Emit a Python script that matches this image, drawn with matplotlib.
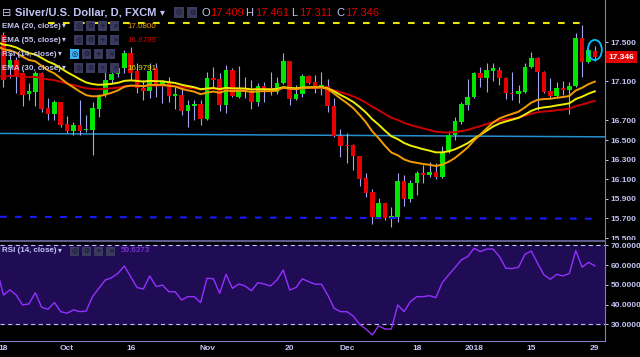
import numpy as np
import pandas as pd
import matplotlib
matplotlib.use("Agg")
import matplotlib.pyplot as plt
from matplotlib.patches import Rectangle, Ellipse

plt.rcParams['font.family'] = ['Liberation Sans', 'DejaVu Sans']
plt.rcParams['lines.scale_dashes'] = False

# --- daily candles, Silver/USD (FXCM), 18 Sep 2017 .. 29 Jan 2018 ---
opens = [17.57, 17.25, 17.32, 17.18, 16.97, 16.99, 17.18, 16.83, 16.77, 16.89,
         16.66, 16.59, 16.65, 16.60, 16.60, 16.82, 16.96, 17.11, 17.17, 17.24,
         17.39, 17.21, 17.03, 17.00, 17.24, 17.05, 17.09, 16.95, 16.96, 16.80,
         16.85, 16.87, 16.72, 17.13, 17.12, 16.86, 17.22, 16.94, 17.03, 16.99,
         16.89, 17.05, 17.03, 16.99, 17.08, 17.31, 16.92, 16.97, 17.15, 17.09,
         17.04, 17.05, 16.85, 16.54, 16.45, 16.45, 16.34, 16.11, 15.97, 15.71,
         15.86, 15.70, 15.71, 16.08, 15.90, 16.06, 16.16, 16.14, 16.17, 16.12,
         16.38, 16.55, 16.68, 16.86, 16.94, 17.18, 17.13, 17.21, 17.22, 17.13,
         16.98, 16.97, 16.99, 17.25, 17.34, 17.19, 17.00, 16.95, 17.03, 17.01,
         17.05, 17.54, 17.30, 17.409]
highs = [17.60, 17.39, 17.35, 17.20, 17.08, 17.21, 17.19, 16.93, 16.91, 16.89,
         16.75, 16.68, 16.91, 16.76, 16.89, 16.97, 17.25, 17.24, 17.29, 17.42,
         17.45, 17.29, 17.11, 17.29, 17.29, 17.11, 17.14, 17.04, 17.04, 16.91,
         16.91, 16.91, 17.19, 17.25, 17.18, 17.27, 17.24, 17.26, 17.14, 17.11,
         17.08, 17.09, 17.20, 17.14, 17.39, 17.31, 17.06, 17.17, 17.16, 17.16,
         17.19, 17.12, 16.93, 16.61, 16.57, 16.46, 16.34, 16.16, 16.00, 15.91,
         15.86, 15.82, 16.16, 16.14, 16.09, 16.18, 16.25, 16.28, 16.27, 16.44,
         16.59, 16.74, 16.89, 17.12, 17.19, 17.25, 17.29, 17.29, 17.25, 17.14,
         17.19, 17.06, 17.29, 17.40, 17.35, 17.21, 17.13, 17.09, 17.10, 17.09,
         17.59, 17.67, 17.49, 17.461]
lows = [17.04, 17.13, 16.98, 16.85, 16.91, 16.85, 16.79, 16.70, 16.70, 16.63,
        16.57, 16.55, 16.55, 16.58, 16.35, 16.74, 16.94, 17.08, 17.14, 17.18,
        17.11, 16.98, 16.91, 16.93, 16.94, 16.88, 16.89, 16.82, 16.76, 16.63,
        16.70, 16.65, 16.70, 17.04, 16.80, 16.78, 16.94, 16.93, 16.93, 16.82,
        16.85, 16.89, 16.96, 16.97, 17.07, 16.86, 16.91, 16.94, 17.07, 16.98,
        16.96, 16.79, 16.53, 16.33, 16.27, 16.19, 16.03, 15.92, 15.64, 15.70,
        15.68, 15.61, 15.66, 15.83, 15.87, 15.94, 16.06, 16.12, 16.10, 16.11,
        16.37, 16.50, 16.66, 16.81, 16.93, 17.04, 16.99, 17.10, 17.06, 16.92,
        16.91, 16.88, 16.98, 17.24, 16.81, 16.98, 16.93, 16.93, 16.96, 16.77,
        17.04, 17.14, 17.29, 17.311]
closes = [17.11, 17.32, 17.16, 16.96, 17.00, 17.18, 16.82, 16.77, 16.89, 16.65,
          16.59, 16.65, 16.59, 16.61, 16.83, 16.96, 17.11, 17.17, 17.24, 17.39,
          17.18, 17.03, 17.00, 17.21, 17.05, 17.09, 16.95, 16.97, 16.80, 16.86,
          16.87, 16.72, 17.13, 17.11, 16.86, 17.22, 16.95, 17.03, 16.99, 16.89,
          17.05, 17.03, 16.99, 17.08, 17.31, 16.92, 16.97, 17.15, 17.08, 17.04,
          17.06, 16.85, 16.54, 16.44, 16.44, 16.34, 16.10, 15.96, 15.71, 15.86,
          15.70, 15.72, 16.08, 15.90, 16.06, 16.16, 16.14, 16.17, 16.12, 16.38,
          16.55, 16.69, 16.87, 16.94, 17.18, 17.13, 17.22, 17.24, 17.13, 16.98,
          16.97, 17.00, 17.25, 17.34, 17.19, 16.99, 16.95, 17.03, 17.01, 17.05,
          17.54, 17.30, 17.42, 17.346]

# RSI(14) as drawn; the first value belongs to the bar just left of the chart
rsi = [57.2, 44.8, 47.4, 44.8, 39.8, 40.3, 46.0, 38.6, 37.6, 41.0, 36.4,
       35.6, 37.3, 36.4, 36.7, 44.0, 48.2, 52.4, 53.6, 55.8, 59.5,
       54.1, 48.6, 47.9, 54.5, 49.1, 49.9, 46.5, 46.5, 42.3, 44.0,
       44.0, 41.0, 53.3, 53.1, 45.7, 55.3, 48.2, 50.4, 49.4, 47.0,
       51.1, 50.4, 49.4, 52.4, 57.5, 47.4, 48.6, 53.0, 51.6, 50.3,
       50.3, 44.8, 38.1, 36.4, 36.4, 34.2, 30.0, 27.6, 24.6, 29.2,
       27.6, 27.6, 39.8, 36.4, 41.5, 44.0, 44.0, 44.5, 43.5, 51.1,
       55.0, 58.7, 62.6, 64.3, 68.5, 66.8, 68.1, 68.1, 64.3, 58.4,
       58.2, 58.9, 65.4, 67.1, 60.9, 55.0, 52.8, 55.3, 54.5, 55.8,
       67.3, 58.9, 61.4, 59.6]

# EMA values on the bar before the first candle
ema_seed = {20: 17.46, 30: 17.50, 55: 17.15}
ema_color = {20: '#f39c00', 30: '#eeee00', 55: '#cc0000'}

# date axis
tick_pos = [0, 10, 20, 32, 45, 54, 65, 74, 83, 93]
tick_labels = ['18', 'Oct', '16', 'Nov', '20', 'Dec', '18', '2018', '15', '29']

# drawn levels
resist_x, resist_y = [7, 92], [17.70, 17.70]
support_x, support_y = [-0.55, 93.8], [15.717, 15.697]
trend_x, trend_y = [-0.55, 94.6], [16.568, 16.533]

price_ticks = [15.5, 15.7, 15.9, 16.1, 16.3, 16.5, 16.7, 17.1, 17.5]
rsi_ticks = [30, 40, 50, 60, 70]

LAV = '#c4c4f4'
GREEN = '#00e600'
RED = '#e60000'
WICK = '#a4a4f0'

W, H = 640, 357
fig = plt.figure(figsize=(W / 100, H / 100), dpi=100, facecolor='black')


def fx(x):
    return x / W


def fy(y):
    return 1 - y / H


# --- price panel ---
ax = fig.add_axes([0, fy(240), fx(605), 240 / H])
ax.set_facecolor('black')
x = np.arange(len(closes))
o, h, l, c = map(np.array, (opens, highs, lows, closes))
ax.vlines(x, l, h, color=WICK, lw=0.8, zorder=2)
body = np.maximum(np.abs(c - o), 0.012)
ax.bar(x, body, bottom=np.minimum(o, c), width=0.72,
       color=np.where(c >= o, GREEN, RED), linewidth=0, zorder=3)

x_ema = np.arange(-1, len(closes))
for n in (55, 30, 20):
    e = pd.Series([ema_seed[n]] + closes).ewm(span=n, adjust=False).mean()
    ax.plot(x_ema, e.values, color=ema_color[n], lw=1.4, zorder=4)

ax.plot(resist_x, resist_y, color='#e6e600', lw=1.5, dashes=(4.8, 6), zorder=4)
ax.plot(support_x, support_y, color='#1a1aff', lw=1.5, dashes=(4.8, 6), zorder=4)
ax.plot(trend_x, trend_y, color='#2590d0', lw=1.1, zorder=1)
ax.add_patch(Ellipse((93, 17.42), 2.2, 0.205, fill=False, ec='#00c0ff', lw=1.3, zorder=5))

ax.set_xlim(-0.55, 94.6)
ax.set_ylim(15.48, 17.93)
ax.set_xticks([])
ax.yaxis.tick_right()
ax.set_yticks(price_ticks)
ax.set_yticklabels(['%.3f' % v for v in price_ticks], fontweight='bold')
ax.tick_params(axis='y', colors=LAV, labelsize=6, length=2.5, width=0.7, pad=1.5)
for s in ('top', 'left', 'bottom'):
    ax.spines[s].set_visible(False)
ax.spines['right'].set_color('#8080c8')
ax.annotate('17.346', xy=(1, 17.346), xycoords=('axes fraction', 'data'),
            xytext=(2.5, 0), textcoords='offset points', ha='left', va='center',
            color='white', fontsize=6, fontweight='bold', annotation_clip=False,
            bbox=dict(boxstyle='square,pad=0.28', fc='#e00000', ec='none'))

# hide the part of the price labels that runs into the lower panel
fig.add_artist(Rectangle((0, 0), 1, fy(240), transform=fig.transFigure,
                         fc='black', ec='none', zorder=0.5))

# --- RSI panel ---
ax2 = fig.add_axes([0, fy(341), fx(605), 100 / H], zorder=1)
ax2.set_facecolor('black')
ax2.axhspan(30, 70, color='#200c55', zorder=0)
for lvl in (30, 70):
    ax2.axhline(lvl, color='#c0c0f0', lw=0.8, dashes=(3, 2.5), zorder=1)
ax2.plot(np.arange(-1, len(closes)), rsi, color='#9430ff', lw=1.0, zorder=2)
ax2.set_xlim(-0.55, 94.6)
ax2.set_ylim(21.54, 72.18)
ax2.yaxis.tick_right()
ax2.set_yticks(rsi_ticks)
ax2.set_yticklabels(['%.4f' % v for v in rsi_ticks], fontweight='bold')
ax2.set_xticks(tick_pos)
ax2.set_xticklabels(tick_labels, fontweight='bold')
ax2.tick_params(axis='y', colors=LAV, labelsize=6, length=2.5, width=0.7, pad=1.5)
ax2.tick_params(axis='x', colors=LAV, labelsize=6, length=0, pad=3)
ax2.spines['left'].set_visible(False)
ax2.spines['right'].set_color('#8080c8')
ax2.spines['bottom'].set_color('#8080c8')
ax2.spines['top'].set_color('#5c5c8c')
ax2.spines['top'].set_linewidth(1.5)


# --- legends (text on top of the panels) ---
def buttons(x0, y, n=4, size=9, hot=False):
    glyphs = ['◎', '⚙', '+', '×'][:n]
    for i, g in enumerate(glyphs):
        left = x0 + i * (size + 3)
        fc = '#3ab4f2' if (hot and i == 0) else '#3a3a5c'
        fig.add_artist(Rectangle((fx(left), fy(y + size / 2)), size / W, size / H,
                                 transform=fig.transFigure, fc=fc, ec='none', zorder=3))
        fig.text(fx(left + size / 2), fy(y), g, color='#14142a', fontsize=5,
                 ha='center', va='center', family='DejaVu Sans', zorder=4)


fig.text(fx(2), fy(12.5), '⊟', color=LAV, fontsize=8, va='center', family='DejaVu Sans')
fig.text(fx(15), fy(12.5), 'Silver/U.S. Dollar, D, FXCM', color=LAV, fontsize=8,
         fontweight='bold', va='center')
fig.text(fx(160), fy(12.5), '▾', color=LAV, fontsize=7, va='center')
buttons(174, 12.5, n=2, size=10)
for lab, val, xl, xv in (('O', '17.409', 201, 210), ('H', '17.461', 245, 255),
                         ('L', '17.311', 291, 299), ('C', '17.346', 336, 345)):
    fig.text(fx(xl), fy(12.5), lab, color=LAV, fontsize=8, va='center')
    fig.text(fx(xv), fy(12.5), val, color='#e00000', fontsize=8, va='center')

rows = [('EMA (20, close)', '17.0800', '#f0a000', 26, 74),
        ('EMA (55, close)', '16.8799', '#d00000', 40, 74),
        ('RSI (14, close)', '', '', 54, 70),
        ('EMA (30, close)', '16.9791', '#e0e000', 68, 74)]
for name, val, col, y, bx in rows:
    fig.text(fx(2), fy(y), name, color=LAV, fontsize=5.8, fontweight='bold', va='center')
    fig.text(fx(bx - 12), fy(y), '▾', color=LAV, fontsize=5.5, va='center')
    buttons(bx, y, hot=name.startswith('RSI'))
    if val:
        fig.text(fx(127), fy(y), val, color=col, fontsize=5.8, va='center')

fig.text(fx(2), fy(251), 'RSI (14, close)', color=LAV, fontsize=5.8, fontweight='bold', va='center')
fig.text(fx(58), fy(251), '▾', color=LAV, fontsize=5.5, va='center')
buttons(70, 251)
fig.text(fx(121), fy(251), '59.6373', color='#9a3cff', fontsize=5.8, va='center')

fig.savefig('out.png', dpi=100, facecolor='black')
